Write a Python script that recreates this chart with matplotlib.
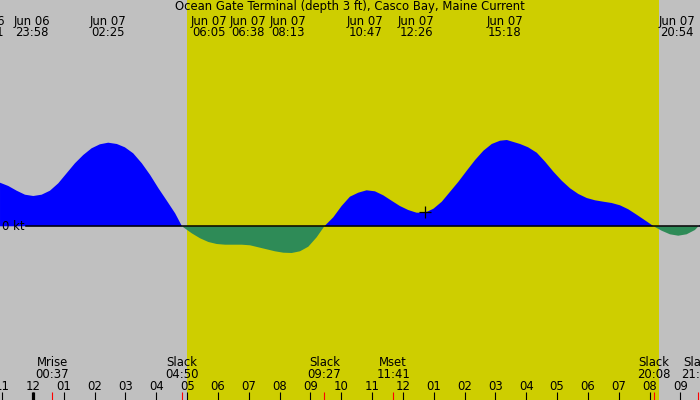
import numpy as np
import matplotlib
matplotlib.use("Agg")
import matplotlib.pyplot as plt
import matplotlib.transforms as mtransforms

# hours since Jun 07 00:00, current speed in knots
hours = [-1.07, -0.80, -0.53, -0.26, 0.01, 0.28, 0.55, 0.82, 1.09, 1.36, 1.63, 1.90,
         2.17, 2.44, 2.72, 2.98, 3.25, 3.53, 3.80, 4.07, 4.34, 4.61, 4.833,
         5.15, 5.42, 5.69, 5.96, 6.23, 6.50, 6.77, 7.04, 7.31, 7.58, 7.85, 8.12,
         8.39, 8.66, 8.93, 9.20, 9.45,
         9.74, 10.01, 10.28, 10.55, 10.82, 11.09, 11.36, 11.63, 11.90, 12.17, 12.44,
         12.72, 12.99, 13.26, 13.53, 13.80, 14.07, 14.34, 14.61, 14.88, 15.15, 15.37,
         15.80, 16.06, 16.34, 16.61, 16.88, 17.15, 17.42, 17.69, 17.96, 18.23, 18.50,
         18.77, 19.04, 19.31, 19.58, 19.85, 20.133,
         20.39, 20.66, 20.93, 21.20, 21.47, 21.583, 21.80]
speed = [0.436, 0.403, 0.356, 0.316, 0.303, 0.316, 0.356, 0.430, 0.530, 0.630, 0.713, 0.780,
         0.820, 0.836, 0.823, 0.790, 0.730, 0.630, 0.513, 0.380, 0.256, 0.130, 0.0,
         -0.070, -0.120, -0.157, -0.177, -0.184, -0.184, -0.184, -0.190, -0.210, -0.230, -0.250, -0.264,
         -0.267, -0.250, -0.204, -0.110, 0.0,
         0.090, 0.203, 0.296, 0.336, 0.360, 0.350, 0.310, 0.256, 0.203, 0.163, 0.136,
         0.136, 0.176, 0.246, 0.346, 0.446, 0.556, 0.663, 0.756, 0.823, 0.856, 0.863,
         0.823, 0.790, 0.736, 0.646, 0.546, 0.456, 0.380, 0.323, 0.283, 0.260, 0.246,
         0.233, 0.210, 0.170, 0.116, 0.060, 0.0,
         -0.044, -0.080, -0.094, -0.080, -0.037, 0.0, 0.05]

# max / min events shown along the top
top_dates = ["Jun 06", "Jun 06", "Jun 07", "Jun 07", "Jun 07", "Jun 07", "Jun 07", "Jun 07", "Jun 07", "Jun 07"]
top_times = ["22:31", "23:58", "02:25", "06:05", "06:38", "08:13", "10:47", "12:26", "15:18", "20:54"]
top_hours = [-1.483, -0.033, 2.417, 6.083, 6.633, 8.217, 10.783, 12.433, 15.3, 20.9]

# slack / moon events shown along the bottom
bot_names = ["Mrise", "Slack", "Slack", "Mset", "Slack", "Slack"]
bot_times = ["00:37", "04:50", "09:27", "11:41", "20:08", "21:35"]
bot_hours = [0.617, 4.833, 9.45, 11.683, 20.133, 21.583]

sunrise, sunset = 5.0, 20.3
mark_hour, mark_speed = 12.72, 0.14
title = "Ocean Gate Terminal (depth 3 ft), Casco Bay, Maine Current"

t = np.array(hours)
v = np.array(speed)

W, H = 700, 400
px_per_hour = 30.83
x0_px = 33.0          # pixel column of Jun 07 00:00
zero_px = 226.3       # pixel row of 0 kt
px_per_kt = 100.0

grey = "#c0c0c0"
yellow = "#cece00"
fs = 8.4
plt.rcParams["font.family"] = "DejaVu Sans"

fig = plt.figure(figsize=(7, 4), dpi=100)
fig.patch.set_facecolor(grey)
ax = fig.add_axes([0, 0, 1, 1])
ax.set_facecolor(grey)
ax.set_xlim(-x0_px / px_per_hour, (W - x0_px) / px_per_hour)
ax.set_ylim(-(H - zero_px) / px_per_kt, zero_px / px_per_kt)
ax.axis("off")

def fy(row):
    return 1 - row / H

trans = mtransforms.blended_transform_factory(ax.transData, fig.transFigure)

ax.axvspan(sunrise, sunset, color=yellow, lw=0, zorder=0)

ax.fill_between(t, v, 0, where=v >= 0, interpolate=True, color="#0000ff", lw=0, zorder=2)
ax.fill_between(t, v, 0, where=v <= 0, interpolate=True, color="#2e8b57", lw=0, zorder=2)
ax.axhline(0, xmin=26 / W, xmax=1, color="k", lw=1.1, zorder=3)
ax.text(2 / W, 0, "0 kt", transform=mtransforms.blended_transform_factory(fig.transFigure, ax.transData),
        fontsize=fs, va="center", ha="left", zorder=4)
ax.plot([mark_hour], [mark_speed], marker="+", color="k", ms=8, mew=0.9, zorder=4)

# title and top labels, pushed apart where they would overlap
fig.text(0.5, fy(10), title, fontsize=fs, ha="center", va="baseline")
pos = list(top_hours)
gap = 39.5 / px_per_hour
for _ in range(100):
    for i in range(len(pos) - 1):
        d = pos[i + 1] - pos[i]
        if d < gap:
            pos[i] -= (gap - d) / 2
            pos[i + 1] += (gap - d) / 2
for p, d, tm in zip(pos, top_dates, top_times):
    ax.text(p, fy(24.5), d, transform=trans, fontsize=fs, ha="center", va="baseline")
    ax.text(p, fy(36), tm, transform=trans, fontsize=fs, ha="center", va="baseline")

# bottom event labels
for h, n, tm in zip(bot_hours, bot_names, bot_times):
    ax.text(h, fy(366), n, transform=trans, fontsize=fs, ha="center", va="baseline")
    ax.text(h, fy(378), tm, transform=trans, fontsize=fs, ha="center", va="baseline")

# hour ticks
ticks = np.arange(-1, 22)
for h in ticks:
    lbl = "%02d" % (h % 12 if h % 12 else 12)
    ax.text(h, fy(390), lbl, transform=trans, fontsize=fs, ha="center", va="baseline")
ax.vlines(ticks, 0, fy(392), transform=trans, color="k", lw=0.8, zorder=5)
ax.vlines([0], 0, fy(392), transform=trans, color="k", lw=2.3, zorder=5)
ax.vlines(bot_hours, 0, fy(392), transform=trans, color="red", lw=0.8, zorder=5)

fig.savefig("out.png", dpi=100, facecolor=grey)
